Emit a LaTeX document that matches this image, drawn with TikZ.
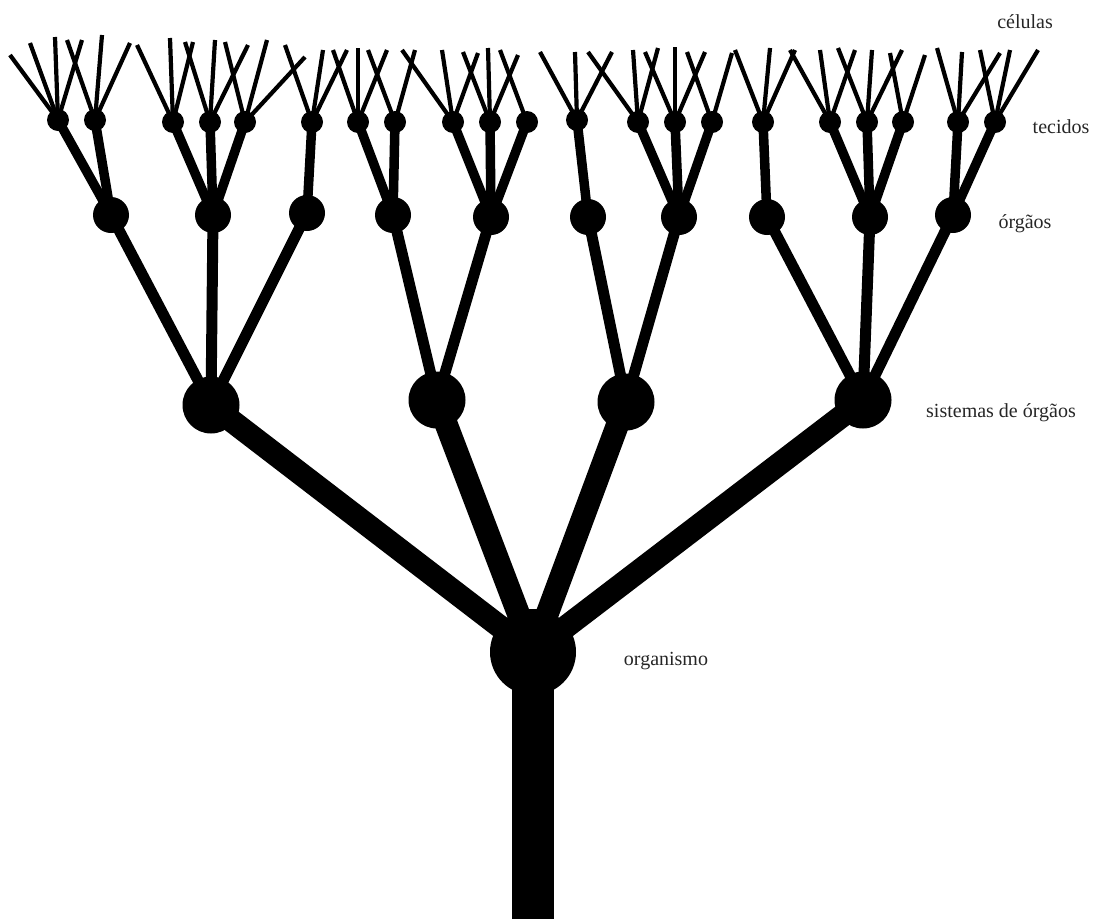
\documentclass[tikz,border=0pt]{standalone}
\usepackage{fontspec}
\setmainfont{Liberation Serif}
\begin{document}
\begin{tikzpicture}[x=1pt,y=-1pt,
  blob/.style={circle,fill=black,inner sep=0pt,minimum size=#1},
  tissue/.style={blob=22pt},
  organ/.style={blob=36pt},
  system/.style={blob=57pt},
  leaf/.style={line width=4.2pt},
  tislink/.style={line width=9.5pt},
  orglink/.style={line width=11pt},
  syslink/.style={line width=23pt},
  trunk/.style={line width=42pt},
  lbl/.style={font=\fontsize{20}{22}\selectfont,text=black!85,inner sep=0pt,anchor=center}]
\useasboundingbox (0,0) rectangle (1094,919);
% organism
\node[blob=86pt] (org) at (533,652) {};
\coordinate (base) at (533,919);
% systems
\node[system] (s1) at (211,405) {};
\node[system] (s2) at (437,400) {};
\node[system] (s3) at (626,402) {};
\node[system] (s4) at (863,400) {};
% organs
\node[organ] (o1) at (111,215) {};
\node[organ] (o2) at (213,215) {};
\node[organ] (o3) at (307,213) {};
\node[organ] (o4) at (393,215) {};
\node[organ] (o5) at (491,217) {};
\node[organ] (o6) at (588,217) {};
\node[organ] (o7) at (679,217) {};
\node[organ] (o8) at (767,217) {};
\node[organ] (o9) at (870,217) {};
\node[organ] (o10) at (953,215) {};
% tissues
\foreach \n/\x/\y in {t1/58/120,t2/95/120,t3/173/122,t4/210/122,t5/245/122,
  t6/312/122,t7/358/122,t8/395/122,t9/453/122,t10/490/122,t11/527/122,
  t12/577/120,t13/638/122,t14/675/122,t15/712/122,t16/763/122,t17/830/122,
  t18/867/122,t19/903/122,t20/958/122,t21/995/122}
  \node[tissue] (\n) at (\x,\y) {};
% trunk and system links
\draw[trunk] (org.center) -- (base);
\foreach \s in {s1,s2,s3,s4} \draw[syslink] (org.center) -- (\s.center);
% organ links
\foreach \s/\o in {s1/o1,s1/o2,s1/o3,s2/o4,s2/o5,s3/o6,s3/o7,s4/o8,s4/o9,s4/o10}
  \draw[orglink] (\s.center) -- (\o.center);
% tissue links
\foreach \o/\t in {o1/t1,o1/t2,o2/t3,o2/t4,o2/t5,o3/t6,o4/t7,o4/t8,o5/t9,o5/t10,o5/t11,
  o6/t12,o7/t13,o7/t14,o7/t15,o8/t16,o9/t17,o9/t18,o9/t19,o10/t20,o10/t21}
  \draw[tislink] (\o.center) -- (\t.center);
% cells
\foreach \t/\x/\y [count=\i] in {
  t1/10/55,t1/30/43,t1/55/37,t1/82/40,
  t2/67/40,t2/102/35,t2/130/43,
  t3/137/45,t3/170/38,t3/193/42,
  t4/185/42,t4/215/40,t4/248/45,
  t5/225/42,t5/267/40,t5/305/57,
  t6/285/45,t6/323/50,t6/347/50,
  t7/333/50,t7/358/48,t7/387/50,
  t8/368/50,t8/415/50,
  t9/402/50,t9/442/50,t9/478/53,
  t10/463/52,t10/488/48,t10/518/55,
  t11/500/50,
  t12/540/52,t12/575/52,t12/612/52,
  t13/588/52,t13/633/50,t13/658/48,
  t14/645/52,t14/675/47,t14/705/52,
  t15/687/52,t15/732/53,
  t16/735/50,t16/770/48,t16/795/50,
  t17/790/50,t17/820/50,t17/855/50,
  t18/838/48,t18/872/50,t18/902/50,
  t19/890/53,t19/925/55,
  t20/937/48,t20/962/52,t20/1000/53,
  t21/980/50,t21/1010/50,t21/1038/50}
  {\coordinate (c\i) at (\x,\y); \draw[leaf] (\t.center) -- (c\i);}
% labels
\node[lbl] (lcel) at (1025,22) {células};
\node[lbl] (ltec) at (1061,127) {tecidos};
\node[lbl] (lorg) at (1025,224) {órgãos};
\node[lbl] (lsis) at (1001,413) {sistemas de órgãos};
\node[lbl] (lorgm) at (666,661) {organismo};
\end{tikzpicture}
\end{document}
